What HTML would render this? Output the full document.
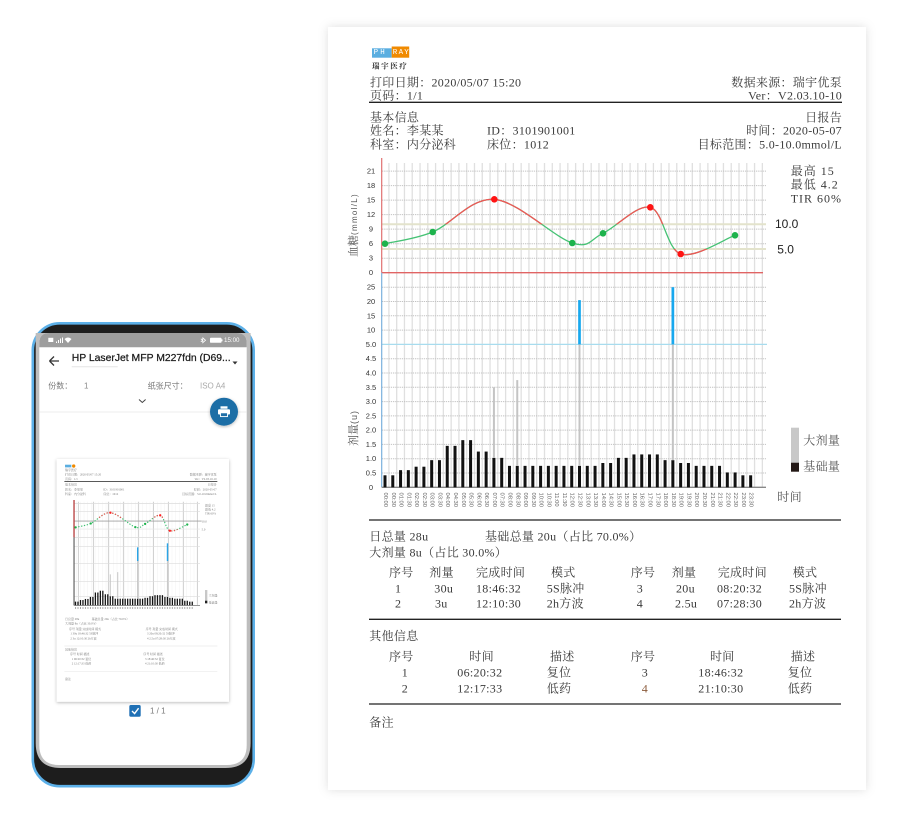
<!DOCTYPE html>
<html><head><meta charset="utf-8">
<style>
html,body{margin:0;padding:0;background:#fff;}
body{width:908px;height:818px;overflow:hidden;}
svg{display:block;}
text{dominant-baseline:central;}
.s{font-family:"Liberation Serif","Noto Serif CJK SC",serif;font-size:12px;fill:#3a3a3a;letter-spacing:0.3px;}
.ax{font-family:"Liberation Sans",sans-serif;font-size:7.5px;fill:#333;}
.xl{font-family:"Liberation Sans",sans-serif;font-size:5.8px;fill:#666;}
.p{font-family:"Liberation Sans","Noto Sans CJK SC",sans-serif;}
.ts{font-family:"Liberation Serif","Noto Serif CJK SC",serif;font-size:9px;fill:#777;}
</style></head><body>
<svg width="908" height="818" viewBox="0 0 908 818">
<defs>
<filter id="sh" x="-5%" y="-5%" width="110%" height="110%"><feDropShadow dx="0" dy="0" stdDeviation="5" flood-color="#000" flood-opacity="0.13"/></filter>
<filter id="sh2" x="-10%" y="-10%" width="120%" height="120%"><feDropShadow dx="0" dy="1" stdDeviation="1.5" flood-color="#000" flood-opacity="0.28"/></filter>
<clipPath id="hi"><rect x="370" y="150" width="420" height="74.3"/></clipPath>
<clipPath id="lo"><rect x="370" y="249" width="420" height="30"/></clipPath>
<clipPath id="thi"><rect x="100" y="100" width="500" height="105"/></clipPath>
<clipPath id="tlo"><rect x="100" y="238" width="500" height="40"/></clipPath>
</defs>
<rect width="908" height="818" fill="#fff"/>

<!-- ================= REPORT PAGE ================= -->
<rect x="328" y="27" width="538" height="763" fill="#fff" filter="url(#sh)"/>

<!-- logo -->
<rect x="372" y="48.3" width="19.7" height="9.4" fill="#5aaee0"/>
<rect x="391.7" y="46.5" width="17.5" height="11.2" fill="#f08a00"/>
<g font-family="Liberation Mono, monospace" font-size="7.5" fill="#fff">
<text x="373.6" y="53.2">P</text><text x="380.2" y="53.2">H</text>
<text x="392.8" y="53.2">R</text><text x="398.6" y="53.2">A</text><text x="404.3" y="53.2">Y</text>
</g>
<text x="372" y="66" font-family="Noto Serif CJK SC, serif" font-size="7.5" letter-spacing="1.6" fill="#333" font-weight="bold">瑞宇医疗</text>

<!-- header -->
<text class="s" x="370" y="82.3">打印日期：2020/05/07 15:20</text>
<text class="s" x="370" y="95.7">页码：1/1</text>
<text class="s" x="842" y="82.3" text-anchor="end">数据来源：瑞宇优泵</text>
<text class="s" x="842" y="95.7" text-anchor="end">Ver：V2.03.10-10</text>
<line x1="369" y1="102.3" x2="842" y2="102.3" stroke="#222" stroke-width="1.4"/>
<text class="s" x="370" y="117.3">基本信息</text>
<text class="s" x="842" y="117.3" text-anchor="end">日报告</text>
<text class="s" x="370" y="130.3">姓名：李某某</text>
<text class="s" x="487" y="130.3">ID：3101901001</text>
<text class="s" x="842" y="130.3" text-anchor="end">时间：2020-05-07</text>
<text class="s" x="370" y="144.3">科室：内分泌科</text>
<text class="s" x="487" y="144.3">床位：1012</text>
<text class="s" x="842" y="144.3" text-anchor="end">目标范围：5.0-10.0mmol/L</text>

<!-- vertical grid -->
<path stroke="#e0e0e0" stroke-width="1.3" fill="none" d="M388.9 163V487.3M396.68 163V487.3M404.46 163V487.3M412.24 163V487.3M420.02 163V487.3M427.8 163V487.3M435.58 163V487.3M443.36 163V487.3M451.14 163V487.3M458.92 163V487.3M466.7 163V487.3M474.48 163V487.3M482.26 163V487.3M490.04 163V487.3M497.82 163V487.3M505.6 163V487.3M513.38 163V487.3M521.16 163V487.3M528.94 163V487.3M536.72 163V487.3M544.5 163V487.3M552.28 163V487.3M560.06 163V487.3M567.84 163V487.3M575.62 163V487.3M583.4 163V487.3M591.18 163V487.3M598.96 163V487.3M606.74 163V487.3M614.52 163V487.3M622.3 163V487.3M630.08 163V487.3M637.86 163V487.3M645.64 163V487.3M653.42 163V487.3M661.2 163V487.3M668.98 163V487.3M676.76 163V487.3M684.54 163V487.3M692.32 163V487.3M700.1 163V487.3M707.88 163V487.3M715.66 163V487.3M723.44 163V487.3M731.22 163V487.3M739 163V487.3M746.78 163V487.3M754.56 163V487.3M762.34 163V487.3"/>

<!-- horizontal dotted grid -->
<path stroke="#c2c2c2" stroke-width="1" stroke-dasharray="1.3 0.9" fill="none" d="M382 258.2H766M382 243.7H766M382 229.1H766M382 214.6H766M382 200.1H766M382 185.6H766M382 171.1H766M382 473H766M382 458.7H766M382 444.4H766M382 430.1H766M382 415.85H766M382 401.6H766M382 387.3H766M382 373H766M382 358.7H766M382 330.1H766M382 315.8H766M382 301.5H766M382 287.2H766"/>
<line x1="382" y1="344.4" x2="767" y2="344.4" stroke="#a8dcee" stroke-width="1.3"/>
<!-- thresholds -->
<line x1="382" y1="224.3" x2="766" y2="224.3" stroke="#e3e3cc" stroke-width="2"/>
<line x1="382" y1="249" x2="766" y2="249" stroke="#e3e3cc" stroke-width="2"/>

<!-- axes -->
<line x1="381.7" y1="158" x2="381.7" y2="272.7" stroke="#e07070" stroke-width="1.2"/>
<line x1="381.7" y1="272.7" x2="763" y2="272.7" stroke="#e06464" stroke-width="1.3"/>
<line x1="381.7" y1="272.7" x2="381.7" y2="487.3" stroke="#7ab0dd" stroke-width="1.2"/>
<line x1="381.7" y1="487.3" x2="766" y2="487.3" stroke="#888" stroke-width="1.3"/>

<!-- tick labels -->
<g class="ax" text-anchor="middle">
<text x="371" y="272.7">0</text><text x="371" y="258.2">3</text><text x="371" y="243.7">6</text><text x="371" y="229.1">9</text><text x="371" y="214.6">12</text><text x="371" y="200.1">15</text><text x="371" y="185.6">18</text><text x="371" y="171.1">21</text>
<text x="371" y="487.3">0</text><text x="371" y="473">0.5</text><text x="371" y="458.7">1.0</text><text x="371" y="444.4">1.5</text><text x="371" y="430.1">2.0</text><text x="371" y="415.85">2.5</text><text x="371" y="401.6">3.0</text><text x="371" y="387.3">3.5</text><text x="371" y="373">4.0</text><text x="371" y="358.7">4.5</text><text x="371" y="344.4">5.0</text><text x="371" y="330.1">10</text><text x="371" y="315.8">15</text><text x="371" y="301.5">20</text><text x="371" y="287.2">25</text>
</g>

<!-- axis titles -->
<text transform="translate(354,225) rotate(-90)" text-anchor="middle" font-family="Liberation Serif, Noto Serif CJK SC, serif" font-size="11" fill="#555">血糖<tspan font-family="Liberation Sans, sans-serif" font-size="8" letter-spacing="1.3">(mmol/L)</tspan></text>
<text transform="translate(354,428) rotate(-90)" text-anchor="middle" font-family="Liberation Serif, Noto Serif CJK SC, serif" font-size="11" fill="#555">剂量<tspan font-family="Liberation Sans, sans-serif" font-size="9" letter-spacing="1">(u)</tspan></text>

<!-- glucose curve -->
<path id="gc" d="M385,243.7 C392.95,241.75 414.48,239.4 432.7,232 C450.92,224.6 471.03,197.47 494.3,199.3 C517.57,201.13 554.18,237.33 572.3,243 C590.42,248.67 590,239.25 603,233.3 C616,227.35 637.35,203.85 650.3,207.3 C663.25,210.75 666.58,249.33 680.7,254 C694.82,258.67 725.95,238.42 735,235.3" fill="none" stroke="#45c274" stroke-width="1.3"/>
<g clip-path="url(#hi)"><path d="M385,243.7 C392.95,241.75 414.48,239.4 432.7,232 C450.92,224.6 471.03,197.47 494.3,199.3 C517.57,201.13 554.18,237.33 572.3,243 C590.42,248.67 590,239.25 603,233.3 C616,227.35 637.35,203.85 650.3,207.3 C663.25,210.75 666.58,249.33 680.7,254 C694.82,258.67 725.95,238.42 735,235.3" fill="none" stroke="#f05555" stroke-width="1.3"/></g>
<g clip-path="url(#lo)"><path d="M385,243.7 C392.95,241.75 414.48,239.4 432.7,232 C450.92,224.6 471.03,197.47 494.3,199.3 C517.57,201.13 554.18,237.33 572.3,243 C590.42,248.67 590,239.25 603,233.3 C616,227.35 637.35,203.85 650.3,207.3 C663.25,210.75 666.58,249.33 680.7,254 C694.82,258.67 725.95,238.42 735,235.3" fill="none" stroke="#f05555" stroke-width="1.3"/></g>
<g fill="#1db34c">
<circle cx="385" cy="243.7" r="3.3"/><circle cx="432.7" cy="232" r="3.3"/><circle cx="572.3" cy="243" r="3.3"/><circle cx="603" cy="233.3" r="3.3"/><circle cx="735" cy="235.3" r="3.3"/>
</g>
<g fill="#ff1414">
<circle cx="494.3" cy="199.3" r="3.3"/><circle cx="650.3" cy="207.3" r="3.3"/><circle cx="680.7" cy="254" r="3.3"/>
</g>

<!-- stats -->
<text class="s" x="790.7" y="171" fill="#444" style="letter-spacing:1px">最高 15</text>
<text class="s" x="790.7" y="184.5" style="letter-spacing:1px">最低 4.2</text>
<text class="s" x="790.7" y="198.3" style="letter-spacing:1px">TIR 60%</text>
<text x="775" y="224" font-family="Liberation Sans, sans-serif" font-size="12" fill="#222">10.0</text>
<text x="777.3" y="249.3" font-family="Liberation Sans, sans-serif" font-size="12" fill="#222">5.0</text>

<!-- basal bars -->
<g fill="#111">
<rect x="383.5" y="475.3" width="3" height="12"/><rect x="391.28" y="475.3" width="3" height="12"/>
<rect x="399.06" y="470.15" width="3" height="17.15"/><rect x="406.84" y="470.15" width="3" height="17.15"/>
<rect x="414.62" y="466.7" width="3" height="20.6"/><rect x="422.4" y="466.7" width="3" height="20.6"/>
<rect x="430.18" y="460.15" width="3" height="27.15"/><rect x="437.96" y="460.15" width="3" height="27.15"/>
<rect x="445.74" y="445.86" width="3" height="41.44"/><rect x="453.52" y="445.86" width="3" height="41.44"/>
<rect x="461.3" y="440.14" width="3" height="47.16"/><rect x="469.08" y="440.14" width="3" height="47.16"/>
<rect x="476.86" y="451.57" width="3" height="35.73"/><rect x="484.64" y="451.57" width="3" height="35.73"/>
<rect x="492.42" y="457.86" width="3" height="29.44"/><rect x="500.2" y="457.86" width="3" height="29.44"/>
<rect x="507.98" y="465.86" width="3" height="21.44"/><rect x="515.76" y="465.86" width="3" height="21.44"/>
<rect x="523.54" y="465.86" width="3" height="21.44"/><rect x="531.32" y="465.86" width="3" height="21.44"/>
<rect x="539.1" y="465.86" width="3" height="21.44"/><rect x="546.88" y="465.86" width="3" height="21.44"/>
<rect x="554.66" y="465.86" width="3" height="21.44"/><rect x="562.44" y="465.86" width="3" height="21.44"/>
<rect x="570.22" y="465.86" width="3" height="21.44"/><rect x="578" y="465.86" width="3" height="21.44"/>
<rect x="585.78" y="465.86" width="3" height="21.44"/><rect x="593.56" y="465.86" width="3" height="21.44"/>
<rect x="601.34" y="463" width="3" height="24.3"/><rect x="609.12" y="463" width="3" height="24.3"/>
<rect x="616.9" y="457.86" width="3" height="29.44"/><rect x="624.68" y="457.86" width="3" height="29.44"/>
<rect x="632.46" y="454.43" width="3" height="32.87"/><rect x="640.24" y="454.43" width="3" height="32.87"/>
<rect x="648.02" y="454.43" width="3" height="32.87"/><rect x="655.8" y="454.43" width="3" height="32.87"/>
<rect x="663.58" y="460.15" width="3" height="27.15"/><rect x="671.36" y="460.15" width="3" height="27.15"/>
<rect x="679.14" y="463" width="3" height="24.3"/><rect x="686.92" y="463" width="3" height="24.3"/>
<rect x="694.7" y="465.86" width="3" height="21.44"/><rect x="702.48" y="465.86" width="3" height="21.44"/>
<rect x="710.26" y="465.86" width="3" height="21.44"/><rect x="718.04" y="465.86" width="3" height="21.44"/>
<rect x="725.82" y="472.44" width="3" height="14.86"/><rect x="733.6" y="472.44" width="3" height="14.86"/>
<rect x="741.38" y="475.3" width="3" height="12"/><rect x="749.16" y="475.3" width="3" height="12"/>
</g>
<!-- bolus bars -->
<g fill="#c4c4c4">
<rect x="492.92" y="387.3" width="2" height="70.56"/>
<rect x="516.26" y="380.1" width="2" height="85.76"/>
<rect x="578.5" y="344.4" width="2" height="121.46"/>
<rect x="671.86" y="344.4" width="2" height="115.75"/>
</g>
<g fill="#18a8ee">
<rect x="578.15" y="300.1" width="2.7" height="44.3"/>
<rect x="671.51" y="287.2" width="2.7" height="57.2"/>
</g>

<!-- x labels -->
<g class="xl">
<text transform="translate(385,492.5) rotate(90)">00:00</text><text transform="translate(392.78,492.5) rotate(90)">00:30</text><text transform="translate(400.56,492.5) rotate(90)">01:00</text><text transform="translate(408.34,492.5) rotate(90)">01:30</text><text transform="translate(416.12,492.5) rotate(90)">02:00</text><text transform="translate(423.9,492.5) rotate(90)">02:30</text><text transform="translate(431.68,492.5) rotate(90)">03:00</text><text transform="translate(439.46,492.5) rotate(90)">03:30</text><text transform="translate(447.24,492.5) rotate(90)">04:00</text><text transform="translate(455.02,492.5) rotate(90)">04:30</text><text transform="translate(462.8,492.5) rotate(90)">05:00</text><text transform="translate(470.58,492.5) rotate(90)">05:30</text><text transform="translate(478.36,492.5) rotate(90)">06:00</text><text transform="translate(486.14,492.5) rotate(90)">06:30</text><text transform="translate(493.92,492.5) rotate(90)">07:00</text><text transform="translate(501.7,492.5) rotate(90)">07:30</text><text transform="translate(509.48,492.5) rotate(90)">08:00</text><text transform="translate(517.26,492.5) rotate(90)">08:30</text><text transform="translate(525.04,492.5) rotate(90)">09:00</text><text transform="translate(532.82,492.5) rotate(90)">09:30</text><text transform="translate(540.6,492.5) rotate(90)">10:00</text><text transform="translate(548.38,492.5) rotate(90)">10:30</text><text transform="translate(556.16,492.5) rotate(90)">11:00</text><text transform="translate(563.94,492.5) rotate(90)">11:30</text><text transform="translate(571.72,492.5) rotate(90)">12:00</text><text transform="translate(579.5,492.5) rotate(90)">12:30</text><text transform="translate(587.28,492.5) rotate(90)">13:00</text><text transform="translate(595.06,492.5) rotate(90)">13:30</text><text transform="translate(602.84,492.5) rotate(90)">14:00</text><text transform="translate(610.62,492.5) rotate(90)">14:30</text><text transform="translate(618.4,492.5) rotate(90)">15:00</text><text transform="translate(626.18,492.5) rotate(90)">15:30</text><text transform="translate(633.96,492.5) rotate(90)">16:00</text><text transform="translate(641.74,492.5) rotate(90)">16:30</text><text transform="translate(649.52,492.5) rotate(90)">17:00</text><text transform="translate(657.3,492.5) rotate(90)">17:30</text><text transform="translate(665.08,492.5) rotate(90)">18:00</text><text transform="translate(672.86,492.5) rotate(90)">18:30</text><text transform="translate(680.64,492.5) rotate(90)">19:00</text><text transform="translate(688.42,492.5) rotate(90)">19:30</text><text transform="translate(696.2,492.5) rotate(90)">20:00</text><text transform="translate(703.98,492.5) rotate(90)">20:30</text><text transform="translate(711.76,492.5) rotate(90)">21:00</text><text transform="translate(719.54,492.5) rotate(90)">21:30</text><text transform="translate(727.32,492.5) rotate(90)">22:00</text><text transform="translate(735.1,492.5) rotate(90)">22:30</text><text transform="translate(742.88,492.5) rotate(90)">23:00</text><text transform="translate(750.66,492.5) rotate(90)">23:30</text>
</g>

<!-- legend -->
<rect x="791" y="427.7" width="8" height="35" fill="#c8c8c8"/>
<rect x="791" y="462.7" width="8" height="9" fill="#231815"/>
<text class="s" x="803.3" y="440.7" style="fill:#555">大剂量</text>
<text class="s" x="803.3" y="466.7" style="fill:#555">基础量</text>
<text class="s" x="777.3" y="497" style="fill:#555">时间</text>

<!-- summary -->
<line x1="369" y1="520" x2="841" y2="520" stroke="#222" stroke-width="1.3"/>
<text class="s" x="369.3" y="536.7">日总量 28u</text>
<text class="s" x="485" y="536.7">基础总量 20u（占比 70.0%）</text>
<text class="s" x="369.3" y="552.3">大剂量 8u（占比 30.0%）</text>

<text class="s" x="389" y="572.7">序号</text><text class="s" x="429.3" y="572.7">剂量</text><text class="s" x="476" y="572.7">完成时间</text><text class="s" x="551" y="572.7">模式</text>
<text class="s" x="630.7" y="572.7">序号</text><text class="s" x="671.7" y="572.7">剂量</text><text class="s" x="717.7" y="572.7">完成时间</text><text class="s" x="792.7" y="572.7">模式</text>

<text class="s" x="395" y="588.7">1</text><text class="s" x="434.3" y="588.7">30u</text><text class="s" x="476" y="588.7">18:46:32</text><text class="s" x="546.7" y="588.7">5S脉冲</text>
<text class="s" x="636.7" y="588.7">3</text><text class="s" x="676" y="588.7">20u</text><text class="s" x="717" y="588.7">08:20:32</text><text class="s" x="789" y="588.7">5S脉冲</text>

<text class="s" x="395" y="603.7">2</text><text class="s" x="435" y="603.7">3u</text><text class="s" x="476" y="603.7">12:10:30</text><text class="s" x="546.7" y="603.7">2h方波</text>
<text class="s" x="636.7" y="603.7">4</text><text class="s" x="675" y="603.7">2.5u</text><text class="s" x="717" y="603.7">07:28:30</text><text class="s" x="789" y="603.7">2h方波</text>

<line x1="369" y1="619.3" x2="841" y2="619.3" stroke="#222" stroke-width="1.3"/>
<text class="s" x="369.3" y="636">其他信息</text>
<text class="s" x="389" y="656.7">序号</text><text class="s" x="469.3" y="656.7">时间</text><text class="s" x="550" y="656.7">描述</text>
<text class="s" x="630.7" y="656.7">序号</text><text class="s" x="710" y="656.7">时间</text><text class="s" x="790.7" y="656.7">描述</text>

<text class="s" x="401.7" y="672.3">1</text><text class="s" x="457.3" y="672.3">06:20:32</text><text class="s" x="546.7" y="672.3">复位</text>
<text class="s" x="641.7" y="672.3">3</text><text class="s" x="698.3" y="672.3">18:46:32</text><text class="s" x="787.7" y="672.3">复位</text>
<text class="s" x="401.7" y="688.3">2</text><text class="s" x="457.3" y="688.3">12:17:33</text><text class="s" x="546.7" y="688.3">低药</text>
<text class="s" x="641.7" y="688.3" style="fill:#8a5a3a">4</text><text class="s" x="698.3" y="688.3">21:10:30</text><text class="s" x="787.7" y="688.3">低药</text>

<line x1="369" y1="704" x2="841" y2="704" stroke="#222" stroke-width="1.3"/>
<text class="s" x="369.3" y="722.7">备注</text>

<!-- ================= PHONE ================= -->
<rect x="32.8" y="323.3" width="220.9" height="462.9" rx="27" fill="#1d1d1d" stroke="#5cb0e8" stroke-width="2.6"/>
<path d="M35.7,333 H250.6 V743 Q250.6,768 225.6,768 H60.7 Q35.7,768 35.7,743 Z" fill="#bdbdbd"/>
<path d="M49.3,333 H236.7 Q246.7,333 246.7,343 V745 Q246.7,765 226.7,765 H59.3 Q39.3,765 39.3,745 V343 Q39.3,333 49.3,333 Z" fill="#fff"/>
<path d="M49.3,333 H236.7 Q246.7,333 246.7,343 V347.3 H39.3 V343 Q39.3,333 49.3,333 Z" fill="#9d9d9d"/>
<!-- status icons -->
<rect x="48.3" y="337.8" width="5" height="4.2" fill="#fff"/>
<path d="M56,343 h1v-1.5h-1z M58,343 h1v-3h-1z M60,343 h1v-4.5h-1z M62,343 h1v-5.5h-1z" fill="#fff"/>
<path d="M64.5,339 Q68,336 71.5,339 L68,343 Z" fill="#fff"/>
<path d="M202.5,337.5 L205.5,340.3 L202.8,342.7 V337.5 M202.5,340 L200.8,338.8 M202.5,340.5 L200.8,341.8" stroke="#fff" stroke-width="0.8" fill="none"/>
<rect x="210" y="337.8" width="11.5" height="5" rx="0.8" fill="#fff"/>
<rect x="221.5" y="339.3" width="1" height="2" fill="#fff"/>
<text class="p" x="224" y="340.4" font-size="6.2" fill="#fff">15:00</text>
<!-- app bar -->
<path d="M49.5,361 H59 M49.5,361 L54,356.5 M49.5,361 L54,365.5" stroke="#333" stroke-width="1.3" fill="none"/>
<text class="p" x="71.7" y="358.5" font-size="10.4" fill="#1a1a1a" stroke="#1a1a1a" stroke-width="0.25">HP LaserJet MFP M227fdn (D69...</text>
<path d="M232.5,361.5 L237.5,361.5 L235,364.5 Z" fill="#333"/>
<rect x="71.7" y="366.2" width="46" height="1.1" fill="#e6e6e6"/>
<text class="p" x="48.3" y="386" font-size="8" fill="#777">份数：</text>
<text class="p" x="84" y="386" font-size="8" fill="#888">1</text>
<text class="p" x="147.7" y="386" font-size="8" fill="#777">纸张尺寸：</text>
<text class="p" x="200" y="386" font-size="8" fill="#aaa">ISO A4</text>
<path d="M139,399.5 L142.3,402.5 L145.6,399.5" stroke="#444" stroke-width="1" fill="none"/>
<line x1="39.3" y1="412" x2="246.7" y2="412" stroke="#ececec" stroke-width="1"/>
<circle cx="224" cy="411.7" r="14" fill="#1f6ea6" filter="url(#sh2)"/>
<rect x="218" y="409.3" width="12" height="5.2" rx="1" fill="#fff"/>
<rect x="220.5" y="406.3" width="7" height="2.4" fill="#fff"/>
<rect x="220.5" y="412.8" width="7" height="3.8" fill="#1f6ea6" stroke="#fff" stroke-width="0.9"/>

<!-- thumbnail -->
<rect x="56.7" y="459" width="172.3" height="242.7" fill="#fff" filter="url(#sh2)"/>
<svg x="56.7" y="459" width="172.3" height="242.7" viewBox="95 27 517 728">
<rect x="95" y="27" width="517" height="728" fill="#fff"/>
<rect x="120" y="44" width="19" height="8" fill="#5aaee0"/>
<circle cx="146" cy="48" r="5" fill="#f08a00"/>
<text class="ts" x="120" y="60" font-size="6">瑞宇医疗</text>
<text class="ts" x="120" y="74">打印日期：2020/05/07 15:20</text>
<text class="ts" x="120" y="87">页码：1/1</text>
<text class="ts" x="575" y="74" text-anchor="end">数据来源：瑞宇优泵</text>
<text class="ts" x="575" y="87" text-anchor="end">Ver：V2.03.10-10</text>
<line x1="118" y1="94" x2="577" y2="94" stroke="#222" stroke-width="2.5"/>
<text class="ts" x="120" y="104">基本信息</text>
<text class="ts" x="575" y="104" text-anchor="end">日报告</text>
<text class="ts" x="120" y="118">姓名：李某某</text><text class="ts" x="235" y="118">ID：3101901001</text><text class="ts" x="575" y="118" text-anchor="end">时间：2020-05-07</text>
<text class="ts" x="120" y="132">科室：内分泌科</text><text class="ts" x="235" y="132">床位：1012</text><text class="ts" x="575" y="132" text-anchor="end">目标范围：5.0-10.0mmol/L</text>
<!-- chart grid -->
<path stroke="#ececec" stroke-width="1" d="M155 155V466M166 155V466M177 155V466M188 155V466M199 155V466M210 155V466M221 155V466M232 155V466M243 155V466M254 155V466M265 155V466M276 155V466M287 155V466M298 155V466M309 155V466M320 155V466M331 155V466M342 155V466M353 155V466M364 155V466M375 155V466M386 155V466M397 155V466M408 155V466M419 155V466M430 155V466M441 155V466M452 155V466M463 155V466M474 155V466M485 155V466M496 155V466M507 155V466M518 155V466"/>
<path stroke="#c8c8c8" stroke-width="2.5" d="M160 155V466M205 155V466M250 155V466M295 155V466M340 155V466M385 155V466M430 155V466M475 155V466M517 155V466"/>
<path stroke="#dcdcdc" stroke-width="2" d="M147 160H525M147 185H525M147 262H525M147 290H525M147 340H525M147 395H525M147 440H525"/>
<line x1="147" y1="213" x2="530" y2="213" stroke="#a0a0a0" stroke-width="2.5"/>
<line x1="147" y1="237" x2="525" y2="237" stroke="#e4e4e4" stroke-width="2"/>
<line x1="147" y1="150" x2="147" y2="262" stroke="#b84040" stroke-width="4"/>
<line x1="147" y1="262" x2="147" y2="466" stroke="#444" stroke-width="3"/>
<line x1="147" y1="466" x2="525" y2="466" stroke="#555" stroke-width="2"/>
<!-- thumb curve -->
<g transform="translate(-217.4,-9.3) scale(0.958,0.99)">
<path d="M385,243.7 C392.95,241.75 414.48,239.4 432.7,232 C450.92,224.6 471.03,197.47 494.3,199.3 C517.57,201.13 554.18,237.33 572.3,243 C590.42,248.67 590,239.25 603,233.3 C616,227.35 637.35,203.85 650.3,207.3 C663.25,210.75 666.58,249.33 680.7,254 C694.82,258.67 725.95,238.42 735,235.3" fill="none" stroke="#3cc070" stroke-width="3.5" stroke-dasharray="4 5"/>
</g>
<g clip-path="url(#thi)"><g transform="translate(-217.4,-9.3) scale(0.958,0.99)">
<path d="M385,243.7 C392.95,241.75 414.48,239.4 432.7,232 C450.92,224.6 471.03,197.47 494.3,199.3 C517.57,201.13 554.18,237.33 572.3,243 C590.42,248.67 590,239.25 603,233.3 C616,227.35 637.35,203.85 650.3,207.3 C663.25,210.75 666.58,249.33 680.7,254 C694.82,258.67 725.95,238.42 735,235.3" fill="none" stroke="#f05050" stroke-width="3.5" stroke-dasharray="4 5"/>
</g></g>
<g clip-path="url(#tlo)"><g transform="translate(-217.4,-9.3) scale(0.958,0.99)">
<path d="M385,243.7 C392.95,241.75 414.48,239.4 432.7,232 C450.92,224.6 471.03,197.47 494.3,199.3 C517.57,201.13 554.18,237.33 572.3,243 C590.42,248.67 590,239.25 603,233.3 C616,227.35 637.35,203.85 650.3,207.3 C663.25,210.75 666.58,249.33 680.7,254 C694.82,258.67 725.95,238.42 735,235.3" fill="none" stroke="#f05050" stroke-width="3.5" stroke-dasharray="4 5"/>
</g></g>
<g fill="#1db34c"><circle cx="151.4" cy="232" r="3.5"/><circle cx="197.1" cy="220.4" r="3.5"/><circle cx="330.9" cy="231.3" r="3.5"/><circle cx="360.3" cy="221.7" r="3.5"/><circle cx="486.7" cy="223.6" r="3.5"/></g>
<g fill="#ff2020"><circle cx="256.1" cy="188" r="3.5"/><circle cx="405.6" cy="195.9" r="3.5"/><circle cx="434.7" cy="242.2" r="3.5"/></g>
<!-- thumb bars -->
<g transform="translate(-217.4,12.8) scale(0.958,0.93)">
<g fill="#111">
<rect x="383" y="475.3" width="4" height="12"/><rect x="390.78" y="475.3" width="4" height="12"/>
<rect x="398.56" y="470.15" width="4" height="17.15"/><rect x="406.34" y="470.15" width="4" height="17.15"/>
<rect x="414.12" y="466.7" width="4" height="20.6"/><rect x="421.9" y="466.7" width="4" height="20.6"/>
<rect x="429.68" y="460.15" width="4" height="27.15"/><rect x="437.46" y="460.15" width="4" height="27.15"/>
<rect x="445.24" y="445.86" width="4" height="41.44"/><rect x="453.02" y="445.86" width="4" height="41.44"/>
<rect x="460.8" y="440.14" width="4" height="47.16"/><rect x="468.58" y="440.14" width="4" height="47.16"/>
<rect x="476.36" y="451.57" width="4" height="35.73"/><rect x="484.14" y="451.57" width="4" height="35.73"/>
<rect x="491.92" y="457.86" width="4" height="29.44"/><rect x="499.7" y="457.86" width="4" height="29.44"/>
<rect x="507.48" y="465.86" width="4" height="21.44"/><rect x="515.26" y="465.86" width="4" height="21.44"/>
<rect x="523.04" y="465.86" width="4" height="21.44"/><rect x="530.82" y="465.86" width="4" height="21.44"/>
<rect x="538.6" y="465.86" width="4" height="21.44"/><rect x="546.38" y="465.86" width="4" height="21.44"/>
<rect x="554.16" y="465.86" width="4" height="21.44"/><rect x="561.94" y="465.86" width="4" height="21.44"/>
<rect x="569.72" y="465.86" width="4" height="21.44"/><rect x="577.5" y="465.86" width="4" height="21.44"/>
<rect x="585.28" y="465.86" width="4" height="21.44"/><rect x="593.06" y="465.86" width="4" height="21.44"/>
<rect x="600.84" y="463" width="4" height="24.3"/><rect x="608.62" y="463" width="4" height="24.3"/>
<rect x="616.4" y="457.86" width="4" height="29.44"/><rect x="624.18" y="457.86" width="4" height="29.44"/>
<rect x="631.96" y="454.43" width="4" height="32.87"/><rect x="639.74" y="454.43" width="4" height="32.87"/>
<rect x="647.52" y="454.43" width="4" height="32.87"/><rect x="655.3" y="454.43" width="4" height="32.87"/>
<rect x="663.08" y="460.15" width="4" height="27.15"/><rect x="670.86" y="460.15" width="4" height="27.15"/>
<rect x="678.64" y="463" width="4" height="24.3"/><rect x="686.42" y="463" width="4" height="24.3"/>
<rect x="694.2" y="465.86" width="4" height="21.44"/><rect x="701.98" y="465.86" width="4" height="21.44"/>
<rect x="709.76" y="465.86" width="4" height="21.44"/><rect x="717.54" y="465.86" width="4" height="21.44"/>
<rect x="725.32" y="472.44" width="4" height="14.86"/><rect x="733.1" y="472.44" width="4" height="14.86"/>
<rect x="740.88" y="475.3" width="4" height="12"/><rect x="748.66" y="475.3" width="4" height="12"/>
</g>
<g fill="#c4c4c4">
<rect x="492.4" y="387.3" width="3" height="70.56"/><rect x="515.76" y="380.1" width="3" height="85.76"/>
<rect x="578" y="344.4" width="3" height="121.46"/><rect x="671.36" y="344.4" width="3" height="115.75"/>
</g>
<g fill="#2aa4e6">
<rect x="577.5" y="300.1" width="4.5" height="44.3"/><rect x="670.9" y="287.2" width="4.5" height="57.2"/>
</g>
</g>
<line x1="150" y1="474" x2="505" y2="474" stroke="#aaa" stroke-width="6" stroke-dasharray="3 4.45"/>
<rect x="540" y="420" width="7" height="32" fill="#c8c8c8"/>
<rect x="540" y="452" width="7" height="8" fill="#222"/>
<text class="ts" x="551" y="436" font-size="7">大剂量</text>
<text class="ts" x="551" y="457" font-size="7">基础量</text>
<text class="ts" x="540" y="167" font-size="8">最高 15</text>
<text class="ts" x="540" y="179" font-size="8">最低 4.2</text>
<text class="ts" x="540" y="191" font-size="8">TIR 60%</text>
<text class="ts" x="530" y="214" font-size="6">10.0</text>
<text class="ts" x="530" y="238" font-size="6">5.0</text>
<!-- thumb summary -->
<text class="ts" x="120" y="507" font-size="8">日总量 28u</text>
<text class="ts" x="200" y="507" font-size="8">基础总量 20u（占比 70.0%）</text>
<text class="ts" x="120" y="520" font-size="8">大剂量 8u（占比 30.0%）</text>
<text class="ts" x="132" y="537" font-size="8">序号 剂量 完成时间 模式</text>
<text class="ts" x="362" y="537" font-size="8">序号 剂量 完成时间 模式</text>
<text class="ts" x="136" y="551" font-size="8">1 30u 18:46:32 5S脉冲</text>
<text class="ts" x="366" y="551" font-size="8">3 20u 08:20:32 5S脉冲</text>
<text class="ts" x="136" y="565" font-size="8">2 3u 12:10:30 2h方波</text>
<text class="ts" x="366" y="565" font-size="8">4 2.5u 07:28:30 2h方波</text>
<line x1="118" y1="588" x2="577" y2="588" stroke="#eaeaea" stroke-width="2"/>
<text class="ts" x="120" y="598" font-size="8">其他信息</text>
<text class="ts" x="135" y="612" font-size="8">序号  时间  描述</text>
<text class="ts" x="355" y="612" font-size="8">序号  时间  描述</text>
<text class="ts" x="140" y="627" font-size="8">1  06:20:32  复位</text>
<text class="ts" x="360" y="627" font-size="8">3  18:46:32  复位</text>
<text class="ts" x="140" y="641" font-size="8">2  12:17:33  低药</text>
<text class="ts" x="360" y="641" font-size="8">4  21:10:30  低药</text>
<line x1="118" y1="665" x2="577" y2="665" stroke="#eaeaea" stroke-width="2"/>
<text class="ts" x="120" y="687" font-size="8">备注</text>
</svg>

<!-- checkbox & page count -->
<rect x="129.3" y="705" width="11.4" height="11.7" rx="1.5" fill="#1f70b5"/>
<path d="M132,711 L134.6,713.6 L138.6,708.2" stroke="#fff" stroke-width="1.4" fill="none"/>
<text class="p" x="150" y="711" font-size="8" fill="#777">1 / 1</text>
</svg>
</body></html>
